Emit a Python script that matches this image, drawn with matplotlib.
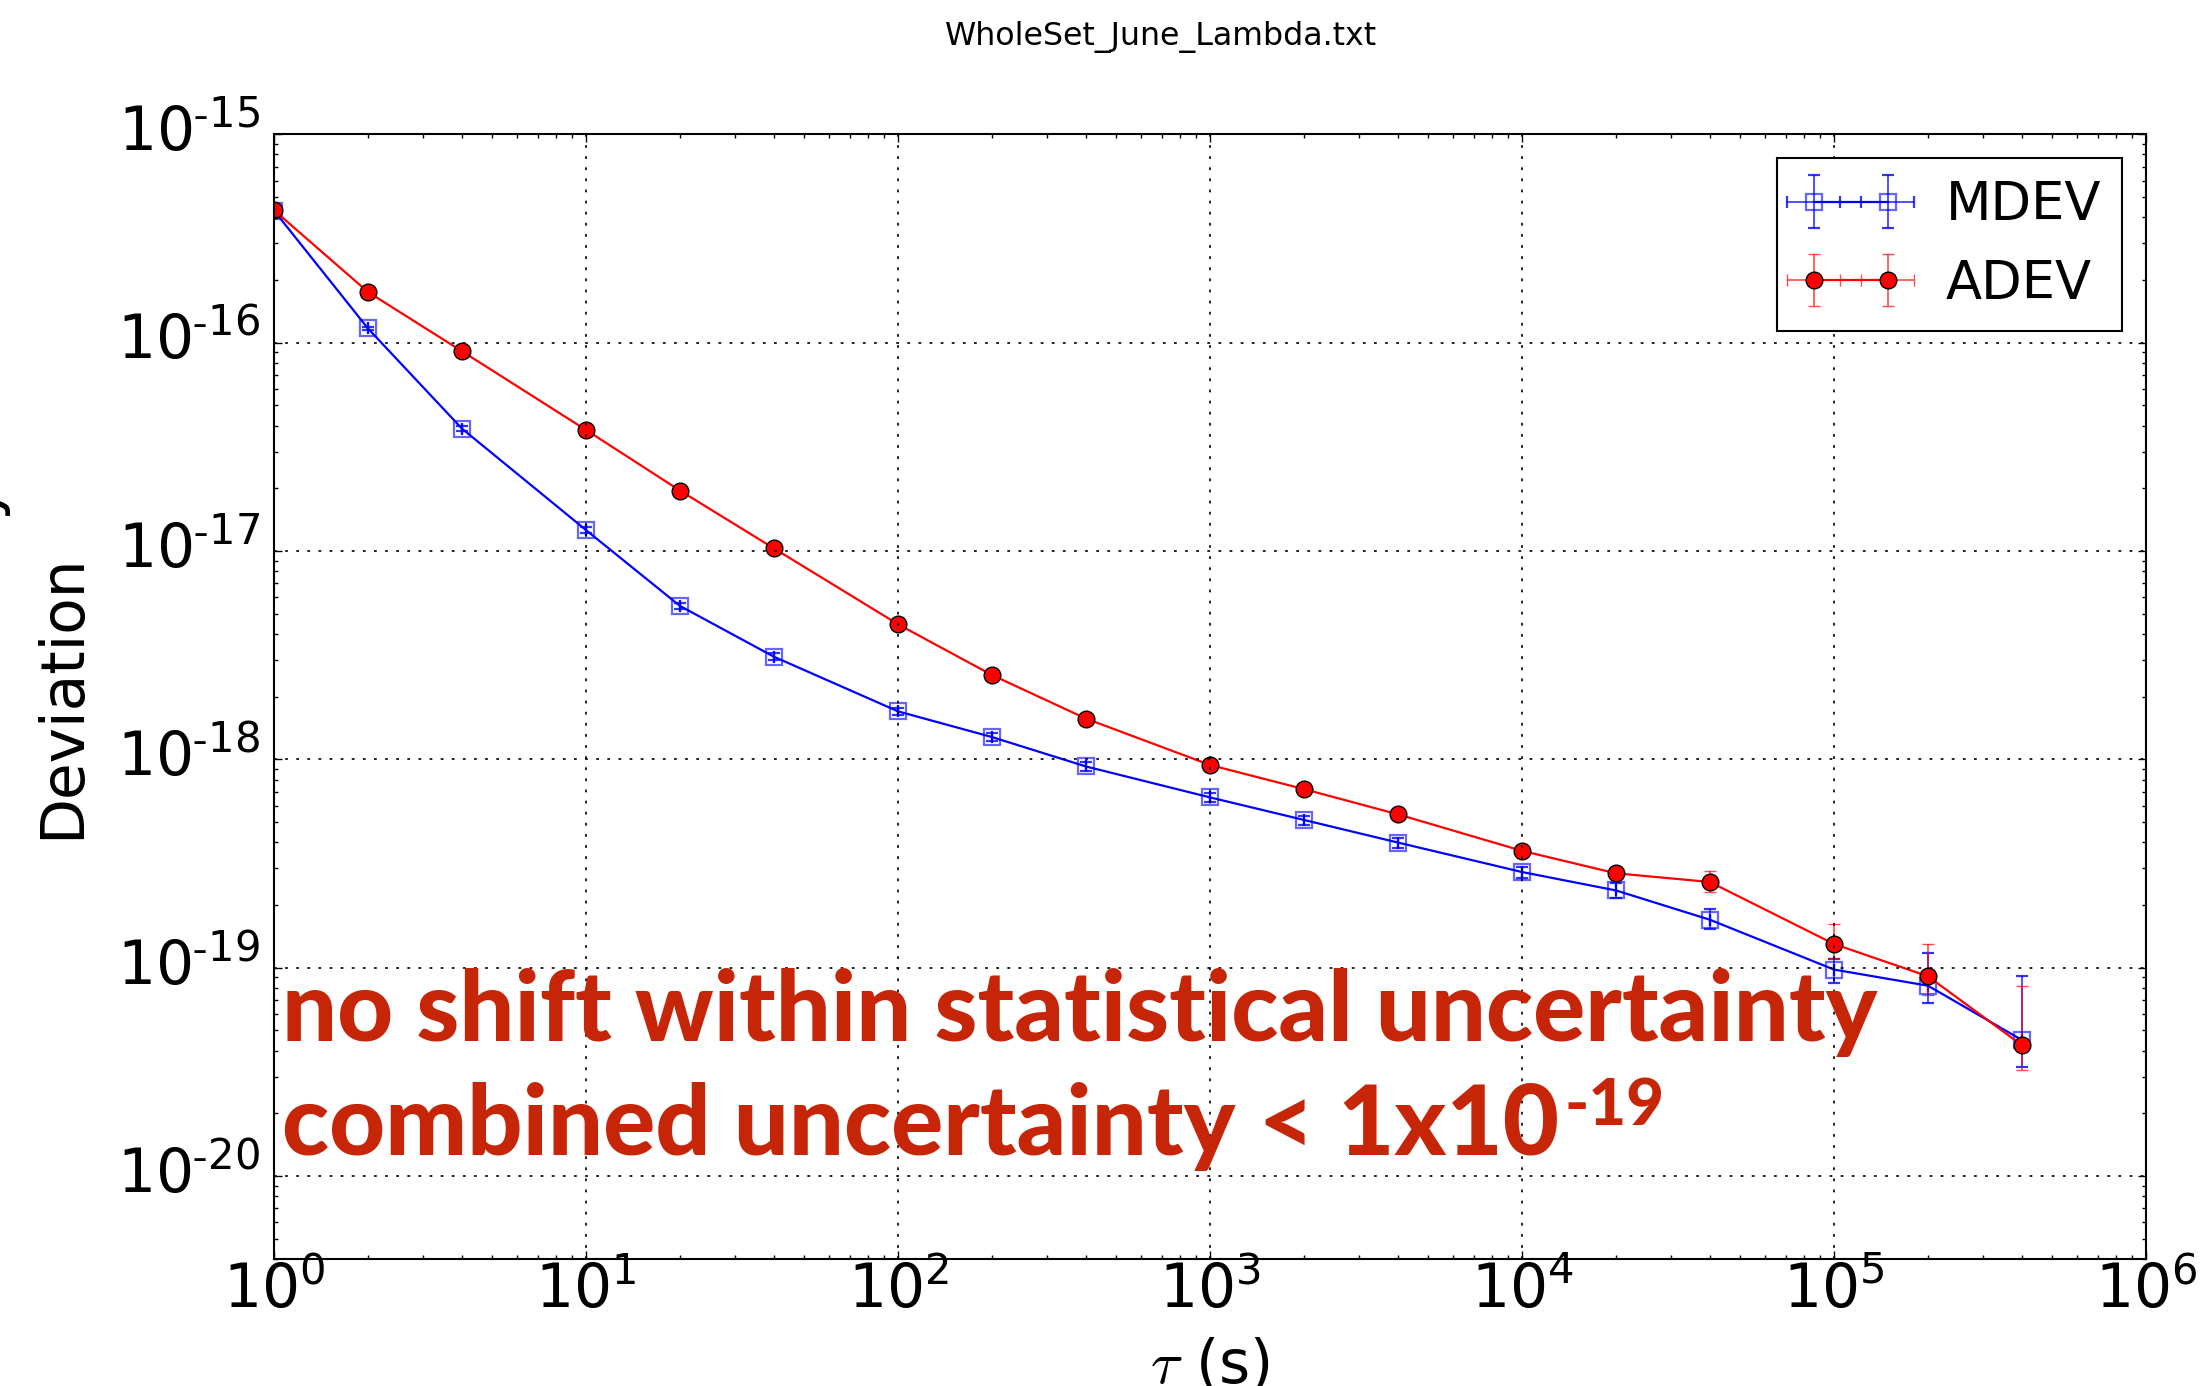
import matplotlib
matplotlib.use("Agg")
import matplotlib.pyplot as plt
from matplotlib.ticker import FuncFormatter
import numpy as np

# averaging times (s)
tau = [1, 2, 4, 10, 20, 40, 100, 200, 400, 1e3, 2e3, 4e3, 1e4, 2e4, 4e4, 1e5, 2e5, 4e5]

# modified allan deviation
mdev = [4.3e-16, 1.17e-16, 3.87e-17, 1.26e-17, 5.45e-18, 3.11e-18, 1.70e-18, 1.28e-18,
        9.25e-19, 6.57e-19, 5.12e-19, 3.99e-19, 2.88e-19, 2.35e-19, 1.70e-19, 9.8e-20,
        8.2e-20, 4.5e-20]
# relative error bars (lower / upper)
mdev_lo = [0.02, 0.02, 0.03, 0.03, 0.035, 0.04, 0.04, 0.045, 0.045, 0.05, 0.05, 0.055,
           0.06, 0.08, 0.095, 0.14, 0.17, 0.26]
mdev_hi = [0.02, 0.02, 0.03, 0.03, 0.035, 0.04, 0.04, 0.045, 0.045, 0.05, 0.05, 0.055,
           0.06, 0.08, 0.12, 0.12, 0.43, 1.03]

# allan deviation
adev = [4.32e-16, 1.75e-16, 9.1e-17, 3.81e-17, 1.95e-17, 1.03e-17, 4.45e-18, 2.54e-18,
        1.57e-18, 9.4e-19, 7.2e-19, 5.45e-19, 3.64e-19, 2.84e-19, 2.58e-19, 1.30e-19,
        9.1e-20, 4.25e-20]
adev_lo = [0.01, 0.015, 0.02, 0.02, 0.025, 0.03, 0.03, 0.035, 0.04, 0.04, 0.045, 0.05,
           0.055, 0.06, 0.10, 0.14, 0.19, 0.24]
adev_hi = [0.01, 0.015, 0.02, 0.02, 0.025, 0.03, 0.03, 0.035, 0.04, 0.04, 0.045, 0.05,
           0.055, 0.07, 0.13, 0.25, 0.43, 0.92]

plt.style.use("classic")
plt.rcParams["font.family"] = ["DejaVu Sans"]
plt.rcParams["axes.unicode_minus"] = False


def decade_label(v, pos):
  # old-style 10^-n with a short hyphen
  e = int(np.round(np.log10(v)))
  if e < 0:
    return r"$\mathdefault{10^{\text{-}%d}}$" % (-e)
  return r"$\mathdefault{10^{%d}}$" % e


fig = plt.figure(figsize=(11.06, 6.93), dpi=200, facecolor="white")
ax = fig.add_axes([0.1239, 0.0916, 0.9702 - 0.1239, 0.9031 - 0.0916])

tau = np.array(tau)
mdev = np.array(mdev)
adev = np.array(adev)
mdev_err = [mdev * np.array(mdev_lo), mdev * np.array(mdev_hi)]
adev_err = [adev * np.array(adev_lo), adev * np.array(adev_hi)]
zero_x = np.zeros_like(tau)

ax.errorbar(tau, mdev, yerr=mdev_err, xerr=zero_x, fmt="-", color="b", lw=0.8,
            marker="s", ms=6, mfc="none", mec=(0, 0, 1, 0.6), mew=0.8,
            ecolor=(0, 0, 1, 0.8), elinewidth=0.6, capsize=2, capthick=0.6,
            label="MDEV")
ax.errorbar(tau, adev, yerr=adev_err, xerr=zero_x, fmt="-", color="r", lw=0.8,
            marker="o", ms=6, mfc="r", mec="k", mew=0.5,
            ecolor=(1, 0, 0, 0.7), elinewidth=0.6, capsize=2, capthick=0.6,
            label="ADEV")

ax.set_xscale("log")
ax.set_yscale("log")
ax.set_xlim(1, 1e6)
ax.set_ylim(4e-21, 1e-15)
ax.xaxis.set_major_formatter(FuncFormatter(decade_label))
ax.yaxis.set_major_formatter(FuncFormatter(decade_label))

ax.grid(True, which="major", color="k", linestyle=":", linewidth=0.6)
for s in ax.spines.values():
  s.set_linewidth(0.75)
ax.tick_params(which="major", length=3, width=0.5, labelsize=21.5)
ax.tick_params(which="minor", length=1.5, width=0.5)
ax.tick_params(axis="x", pad=1)
ax.tick_params(axis="y", pad=5)

ax.set_xlabel(r"$\tau$ (s)", fontsize=21.5)
ax.set_ylabel("Clock Stability\nDeviation", fontsize=21.5, linespacing=1.47)
ax.xaxis.set_label_coords(0.5, -0.069)
ax.yaxis.set_label_coords(-0.0972, 0.5)

leg = ax.legend(loc="upper right", fontsize=19, numpoints=2, handlelength=2.0,
                borderaxespad=0.45)
leg.get_frame().set_linewidth(0.75)

fig.text(0.525, 0.9675, "WholeSet_June_Lambda.txt", ha="center", va="baseline",
         fontsize=11.4)

# annotation in red
note_color = "#C72508"
ax.text(0.0041, 0.1943, "no shift within statistical uncertainty", transform=ax.transAxes,
        ha="left", va="baseline", fontsize=35, family="Lato", weight="black",
        color=note_color)
t2 = ax.text(0.0041, 0.0927, "combined uncertainty < 1x10", transform=ax.transAxes,
             ha="left", va="baseline", fontsize=35, family="Lato", weight="black",
             color=note_color)
ax.annotate("-19", xy=(1, 0), xycoords=t2, xytext=(2, 16.5), textcoords="offset points",
            ha="left", va="baseline", fontsize=23.5, family="Lato", weight="black",
            color=note_color)

fig.savefig("out.png", dpi=200, facecolor="white")
